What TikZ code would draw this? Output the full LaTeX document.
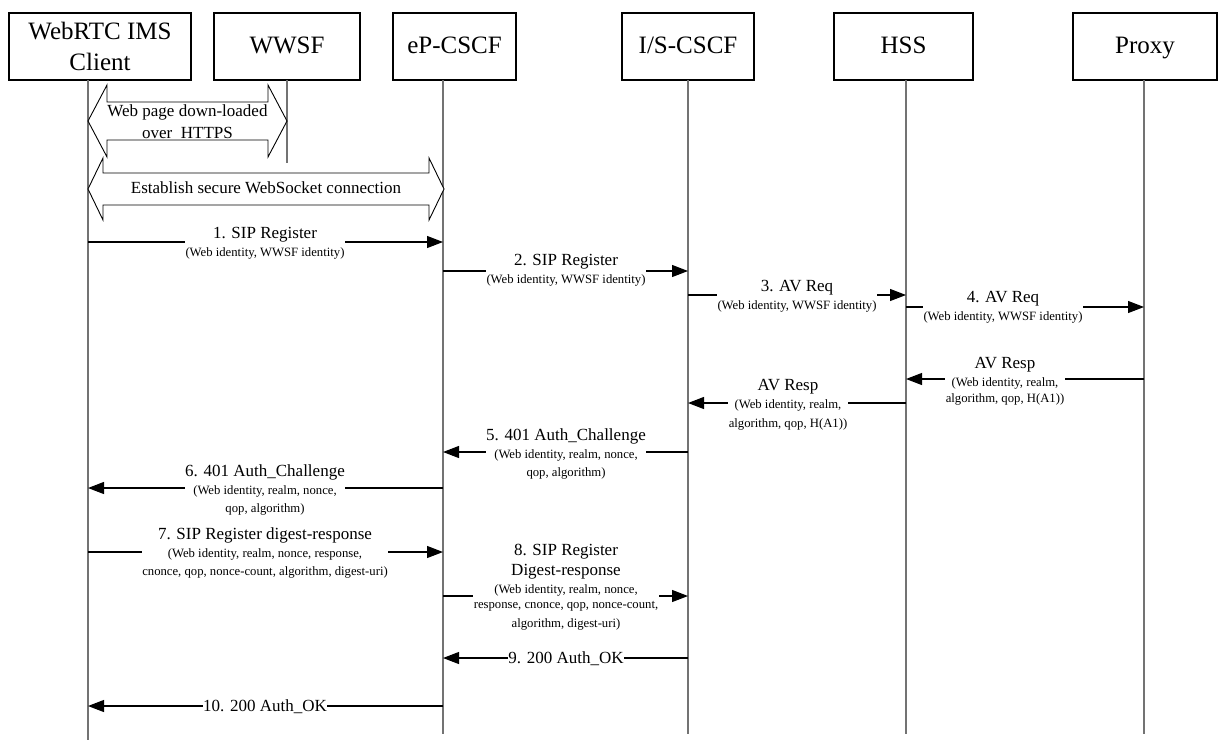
\documentclass[tikz,border=0pt]{standalone}
\usepackage{fontspec}
\setmainfont{Liberation Serif}
\usetikzlibrary{arrows.meta}

\newcommand\hdrfont{\fontsize{25}{31}\selectfont}
\newcommand\msgfont{\fontsize{17}{18.3}\selectfont}
\newcommand\detfont{\fontsize{12.7}{18.3}\selectfont}

% hollow double-headed block arrow: tipL, tipR, yc, head half-height, shaft half-height, head length
\newcommand\blockarrow[6]{%
  \draw[blockarr] (#1,#3) -- ({#1+#6},{#3-#4}) -- ({#1+#6},{#3-#5}) -- ({#2-#6},{#3-#5})
    -- ({#2-#6},{#3-#4}) -- (#2,#3) -- ({#2-#6},{#3+#4}) -- ({#2-#6},{#3+#5})
    -- ({#1+#6},{#3+#5}) -- ({#1+#6},{#3+#4}) -- cycle;}

\tikzset{
  entity/.style={draw, line width=1.3pt, inner sep=0pt, font=\hdrfont, align=center},
  oneline/.style={text height=17pt, text depth=4pt},
  life/.style={draw=black!55, line width=1.5pt},
  msg/.style={line width=1.1pt, -{Triangle[length=16pt,width=12pt]}},
  lbl/.style={fill=white, inner xsep=0.5pt, inner ysep=0pt, align=center, font=\msgfont},
  blockarr/.style={draw, line width=0.9pt, fill=white},
  blocktext/.style={align=center, font=\fontsize{17}{22}\selectfont, inner sep=0pt}
}

\begin{document}
\begin{tikzpicture}[x=1pt, y=-1pt]
\useasboundingbox (0,0) rectangle (1218,740);

% participants
\node[entity, minimum width=182pt, minimum height=67pt] (hC) at (100,46.5) {WebRTC IMS\\Client};
\node[entity, oneline, minimum width=146pt, minimum height=67pt] (hW) at (287,46.5) {WWSF};
\node[entity, oneline, minimum width=123pt, minimum height=67pt] (hP) at (454.5,46.5) {eP-CSCF};
\node[entity, oneline, minimum width=132pt, minimum height=67pt] (hI) at (688,46.5) {I/S-CSCF};
\node[entity, oneline, minimum width=139pt, minimum height=67pt] (hH) at (903.5,46.5) {HSS};
\node[entity, oneline, minimum width=144pt, minimum height=67pt] (hX) at (1145,46.5) {Proxy};

% lifelines
\coordinate (lC) at (88,80);
\coordinate (lW) at (287,80);
\coordinate (lP) at (443,80);
\coordinate (lI) at (688,80);
\coordinate (lH) at (906,80);
\coordinate (lX) at (1144,80);
\draw[life] (lC) -- (lC |- 0,740);
\draw[life] (lW) -- (lW |- 0,163);
\draw[life] (lP) -- (lP |- 0,734);
\draw[life] (lI) -- (lI |- 0,734);
\draw[life] (lH) -- (lH |- 0,734);
\draw[life] (lX) -- (lX |- 0,734);

% HTTPS download and WebSocket set-up
\blockarrow{88}{287}{121}{36}{19}{19}
\node[blocktext, anchor=north] (tweb) at (187.5,104) {Web page down-loaded\\over~ HTTPS};
\blockarrow{88}{444}{189}{31}{16}{15}
\node[blocktext] (tws) at (266,188) {Establish secure WebSocket connection};

% messages
\draw[msg] (lC |- 0,242) -- (lP |- 0,242);
\draw[msg] (lP |- 0,271) -- (lI |- 0,271);
\draw[msg] (lI |- 0,295) -- (lH |- 0,295);
\draw[msg] (lH |- 0,307) -- (lX |- 0,307);
\draw[msg] (lX |- 0,379) -- (lH |- 0,379);
\draw[msg] (lH |- 0,403) -- (lI |- 0,403);
\draw[msg] (lI |- 0,452) -- (lP |- 0,452);
\draw[msg] (lP |- 0,488) -- (lC |- 0,488);
\draw[msg] (lC |- 0,552) -- (lP |- 0,552);
\draw[msg] (lP |- 0,596) -- (lI |- 0,596);
\draw[msg] (lI |- 0,658) -- (lP |- 0,658);
\draw[msg] (lP |- 0,706) -- (lC |- 0,706);

% message labels
\node[lbl, anchor=north] (t1) at (265,227) {1. SIP Register\\{\detfont (Web identity, WWSF identity)}};
\node[lbl, anchor=north] (t2) at (566,254) {2. SIP Register\\{\detfont (Web identity, WWSF identity)}};
\node[lbl, anchor=north] (t3) at (797,280) {3. AV Req\\{\detfont (Web identity, WWSF identity)}};
\node[lbl, anchor=north] (t4) at (1003,291) {4. AV Req\\{\detfont (Web identity, WWSF identity)}};
\node[lbl, anchor=north] (tr1) at (1005,357) {AV Resp\\{\detfont (Web identity, realm,}\\[-3pt]{\detfont algorithm, qop, H(A1))}};
\node[lbl, anchor=north] (tr2) at (788,379) {AV Resp\\{\detfont (Web identity, realm,}\\{\detfont algorithm, qop, H(A1))}};
\node[lbl, anchor=north] (t5) at (566,428) {5. 401 Auth\_Challenge\\{\detfont (Web identity, realm, nonce,}\\{\detfont qop, algorithm)}};
\node[lbl, anchor=north] (t6) at (265,464) {6. 401 Auth\_Challenge\\{\detfont (Web identity, realm, nonce,}\\{\detfont qop, algorithm)}};
\node[lbl, anchor=north] (t7) at (265,527) {7. SIP Register digest-response\\{\detfont (Web identity, realm, nonce, response,}\\{\detfont cnonce, qop, nonce-count, algorithm, digest-uri)}};
\node[lbl, anchor=north] (t8) at (566,544) {8. SIP Register\\[1.5pt]Digest-response\\{\detfont (Web identity, realm, nonce,}\\[-3pt]{\detfont response, cnonce, qop, nonce-count,}\\{\detfont algorithm, digest-uri)}};
\node[lbl] (t9) at (566,659) {9. 200 Auth\_OK};
\node[lbl] (t10) at (265,707) {10. 200 Auth\_OK};
\end{tikzpicture}
\end{document}
